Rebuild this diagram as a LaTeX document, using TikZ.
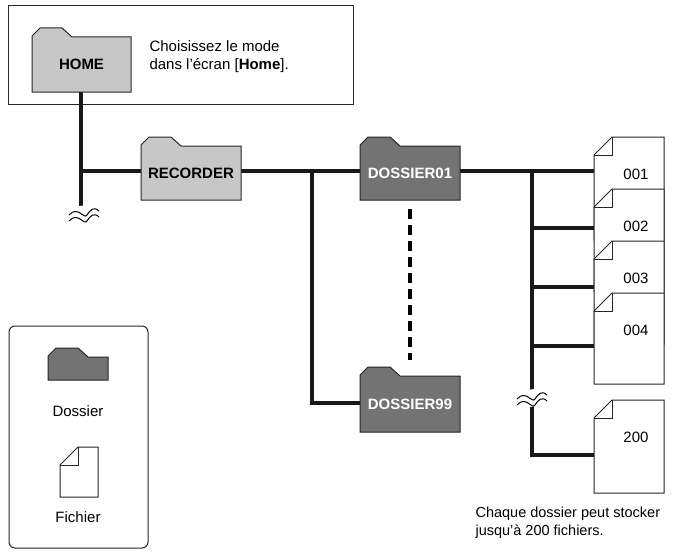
\documentclass[tikz,border=0pt]{standalone}
\usepackage{fontspec}
\setmainfont{Liberation Sans}
\begin{document}
\begin{tikzpicture}[x=1pt,y=-1pt,
  conn/.style={line width=4pt,black!90},
  box/.style={draw=black!85,line width=1pt},
  ftxt/.style={font=\fontsize{15}{18}\selectfont},
  light/.style={fill=black!22,draw=black!85,line width=1pt},
  dark/.style={fill=black!55,draw=black!85,line width=1pt}]
\useasboundingbox (0,0) rectangle (687,551);
\newcommand\myfolder[7]{% name x t w b style text
  \path[#6] (#2,#5)--(#2,#3+8)--(#2+8,#3)--(#2+30,#3)--(#2+40,#3+9)--(#2+#4,#3+9)--(#2+#4,#5)--cycle;
  \node[inner sep=0,minimum width={(#4)*1pt},minimum height={(#5-#3-9)*1pt}] (#1) at (#2+#4/2,{(#3+9+#5)/2}) {#7};}
\newcommand\myfile[7]{% name x t b text yoff w
  \path[box,fill=white] (#2,#4)--(#2,#3+18)--(#2+18,#3)--(#2+#7,#3)--(#2+#7,#4)--cycle;
  \draw[box] (#2,#3+18)--(#2+18,#3+18)--(#2+18,#3);
  \node[inner sep=0,minimum width={(#7)*1pt},minimum height={(#4-#3)*1pt},anchor=north west] (#1) at (#2,#3) {};
  \node[ftxt] at (#2+42,#3+#6) {#5};}
\newcommand\mybreak[2]{%
  \fill[white] (#1-10,#2-7) -- (#1+14,#2-11) -- (#1+10,#2+7) -- (#1-14,#2+11) -- cycle;
  \draw[line width=1pt] (#1-15,#2+1) .. controls (#1-6,#2-9) and (#1,#2+6) .. (#1+3,#2+1) .. controls (#1+6,#2-4) and (#1+10,#2-8) .. (#1+15,#2-3);
  \draw[line width=1pt] (#1-15,#2+7) .. controls (#1-6,#2-3) and (#1,#2+12) .. (#1+3,#2+7) .. controls (#1+6,#2+2) and (#1+10,#2-2) .. (#1+15,#2+3);}

% top box
\draw[box] (8,6) rectangle (353,104);
\myfolder{home}{32}{28}{99}{92}{light}{\fontsize{15}{18}\selectfont\bfseries HOME}
\node[ftxt,anchor=west,align=left] (note) at (146,57) {Choisissez le mode\\dans l'écran [\textbf{Home}].};

% connectors
\coordinate (j1) at (81,171);
\coordinate (brk1) at (81,210);
\coordinate (j2) at (312,171);
\coordinate (j3) at (312,403);
\coordinate (k0) at (532,171);
\coordinate (k1) at (532,228);
\coordinate (k2) at (532,287);
\coordinate (k3) at (532,346);
\coordinate (k4) at (532,455);
\draw[conn] (home.south -| j1) -- (brk1);
\draw[conn] (j1) -- (141,171);
\draw[conn] (241,171) -- (360,171);
\draw[conn] (j2) -- (j3) -- (360,403);
\draw[conn] (460,171) -- (594,171);
\draw[conn] (k0) -- (k4) -- (594,455);
\draw[conn] (k1) -- (594,228);
\draw[conn] (k2) -- (594,287);
\draw[conn] (k3) -- (594,346);
\draw[line width=4pt,dash pattern=on 10pt off 6pt] (410,209) -- (410,360);
\mybreak{84}{214}
\mybreak{532}{398}

\myfolder{rec}{141}{137}{100}{200}{light}{\fontsize{15}{18}\selectfont\bfseries RECORDER}
\myfolder{d01}{360}{137}{100}{200}{dark}{\color{white}\fontsize{15}{18}\selectfont\bfseries DOSSIER01}
\myfolder{d99}{360}{367}{100}{432}{dark}{\color{white}\fontsize{15}{18}\selectfont\bfseries DOSSIER99}

\myfile{f1}{594}{137}{240}{001}{37}{70}
\myfile{f2}{594}{189}{292}{002}{37}{70}
\myfile{f3}{594}{241}{344}{003}{37}{70}
\myfile{f4}{594}{293}{384}{004}{37}{70}
\myfile{f200}{594}{400}{493}{200}{37}{70}
\node[anchor=north west,align=left,font=\fontsize{14.5}{18}\selectfont] (cap) at (472,503) {Chaque dossier peut stocker\\jusqu'à 200 fichiers.};

% legend
\draw[box,rounded corners=6pt] (9,326) rectangle (148,548);
\myfolder{lf}{48}{348}{60}{380}{dark}{}
\node[ftxt] (ld) at (78,411) {Dossier};
\myfile{lfi}{60}{447}{497}{}{0}{38}
\node[ftxt] (lfl) at (78,517) {Fichier};
\end{tikzpicture}
\end{document}
